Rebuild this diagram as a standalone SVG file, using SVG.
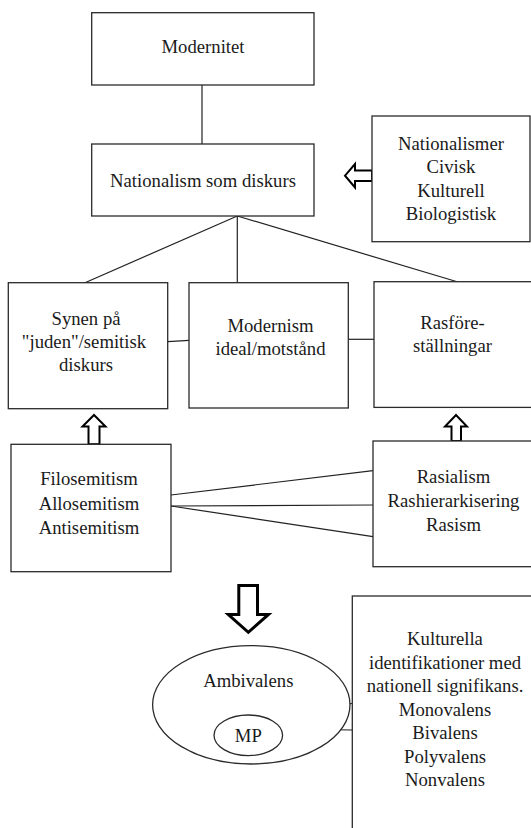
<svg xmlns="http://www.w3.org/2000/svg" width="531" height="828" viewBox="0 0 531 828" font-family="Liberation Serif, Times New Roman, DejaVu Serif, serif">
<style>
.box{fill:#fff;stroke:#2a2a2a;stroke-width:1.3}
.ln{fill:none;stroke:#222;stroke-width:1.2}
.arr{fill:#fff;stroke:#000;stroke-width:2;stroke-linejoin:miter}
.big{fill:#fff;stroke:#000;stroke-width:3;stroke-linejoin:miter}
.t{font-family:'Liberation Serif','Times New Roman',serif;font-size:18.7px;fill:#1a1a1a;text-anchor:middle}
</style>
<rect width="531" height="828" fill="#fff"/>
<g id="connectors">
<line class="ln" x1="202" y1="85" x2="202" y2="144"/>
<line class="ln" x1="237.3" y1="216" x2="85" y2="282.7"/>
<line class="ln" x1="237.3" y1="216" x2="237.3" y2="282.7"/>
<line class="ln" x1="237.3" y1="216" x2="458" y2="282"/>
<line class="ln" x1="167.7" y1="341.7" x2="189" y2="340.3"/>
<line class="ln" x1="348.3" y1="339.3" x2="374" y2="339.3"/>
<line class="ln" x1="171" y1="495" x2="373" y2="470.7"/>
<line class="ln" x1="171" y1="506" x2="373" y2="505"/>
<line class="ln" x1="171" y1="506" x2="373" y2="536.7"/>
<line class="ln" x1="339.5" y1="704.3" x2="352.3" y2="703.5"/>
<line class="ln" x1="282.6" y1="729" x2="352.3" y2="730"/>
<polygon class="arr" points="372,170.5 355,170.5 355,164 345,175.7 355,187.5 355,181 372,181"/>
<polygon class="arr" points="88.5,444.3 88.5,426.5 82.5,426.5 94,415 105.5,426.5 99.5,426.5 99.5,444.3"/>
<polygon class="arr" points="451.5,441 451.5,426.5 445,426.5 456,415 467,426.5 461,426.5 461,441"/>
<polygon class="big" points="238.8,585.5 257.5,585.5 257.5,614.5 268.5,614.5 248.3,632.3 228.3,614.5 238.8,614.5"/>
</g>
<g id="modernitet">
<rect class="box" x="91.7" y="12.7" width="222.3" height="72.3"/>
<text class="t" x="203" y="52.5">Modernitet</text>
</g>
<g id="nationalism">
<rect class="box" x="91.7" y="144" width="222.3" height="72"/>
<text class="t" x="203" y="187">Nationalism som diskurs</text>
</g>
<g id="nationalismer">
<rect class="box" x="372" y="116" width="158" height="125.7"/>
<text class="t" x="451" y="150">Nationalismer</text>
<text class="t" x="451" y="173.3">Civisk</text>
<text class="t" x="451" y="196.7">Kulturell</text>
<text class="t" x="451" y="220">Biologistisk</text>
</g>
<g id="synen">
<rect class="box" x="8.3" y="282.7" width="159.4" height="126"/>
<text class="t" x="86" y="324.5">Synen på</text>
<text class="t" x="84" y="347.5">"juden"/semitisk</text>
<text class="t" x="86" y="370.5">diskurs</text>
</g>
<g id="modernism">
<rect class="box" x="189" y="282.7" width="159.3" height="125.3"/>
<text class="t" x="270.5" y="331.7">Modernism</text>
<text class="t" x="270.5" y="354.5">ideal/motstånd</text>
</g>
<g id="rasforestallningar">
<rect class="box" x="374" y="281.7" width="170" height="125.7"/>
<text class="t" x="452.5" y="328.5">Rasföre-</text>
<text class="t" x="452.5" y="352">ställningar</text>
</g>
<g id="filosemitism">
<rect class="box" x="11" y="444.3" width="160" height="127.4"/>
<text class="t" x="89" y="485">Filosemitism</text>
<text class="t" x="89" y="509.5">Allosemitism</text>
<text class="t" x="89" y="533.5">Antisemitism</text>
</g>
<g id="rasialism">
<rect class="box" x="373" y="441" width="170" height="125.7"/>
<text class="t" x="453.5" y="483.3">Rasialism</text>
<text class="t" x="453.5" y="507.3">Rashierarkisering</text>
<text class="t" x="453.5" y="531">Rasism</text>
</g>
<g id="ambivalens">
<ellipse class="box" cx="251.3" cy="704.8" rx="98.7" ry="59.2"/>
<text class="t" x="248.3" y="687.3">Ambivalens</text>
</g>
<g id="mp">
<ellipse class="box" cx="248.3" cy="735.3" rx="34.3" ry="20.3"/>
<text class="t" x="248.3" y="741.7">MP</text>
</g>
<g id="kulturella">
<rect class="box" x="352.3" y="596" width="200" height="250"/>
<text class="t" x="445" y="645">Kulturella</text>
<text class="t" x="445" y="668.5">identifikationer med</text>
<text class="t" x="445" y="692">nationell signifikans.</text>
<text class="t" x="445" y="715.5">Monovalens</text>
<text class="t" x="445" y="739">Bivalens</text>
<text class="t" x="445" y="762.5">Polyvalens</text>
<text class="t" x="445" y="786">Nonvalens</text>
</g>
</svg>
